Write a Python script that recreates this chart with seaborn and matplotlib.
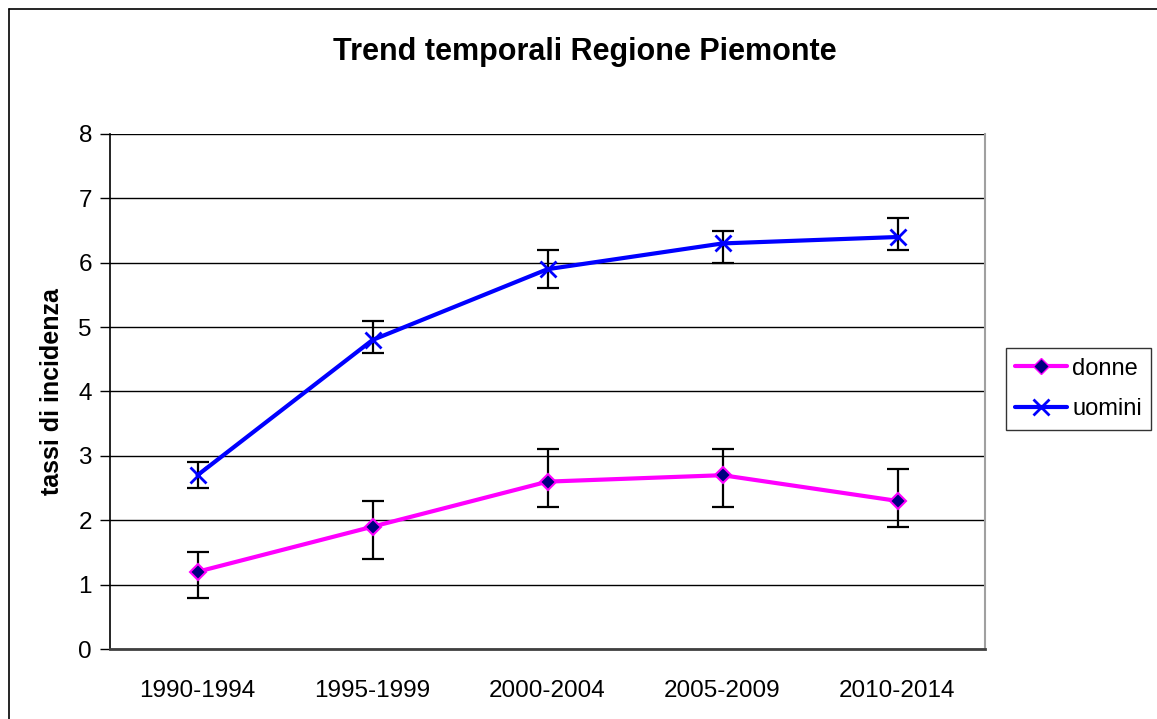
import seaborn as sns
import pandas as pd
import matplotlib.pyplot as plt
from matplotlib.lines import Line2D

# Data
periodi = ['1990-1994', '1995-1999', '2000-2004', '2005-2009', '2010-2014']
donne = [1.2, 1.9, 2.6, 2.7, 2.3]
donne_low = [0.8, 1.4, 2.2, 2.2, 1.9]
donne_high = [1.5, 2.3, 3.1, 3.1, 2.8]
uomini = [2.7, 4.8, 5.9, 6.3, 6.4]
uomini_low = [2.5, 4.6, 5.6, 6.0, 6.2]
uomini_high = [2.9, 5.1, 6.2, 6.5, 6.7]

df = pd.DataFrame({
    'periodo': periodi * 2,
    'tasso': donne + uomini,
    'sesso': ['donne'] * 5 + ['uomini'] * 5,
})

sns.set_style('white')
plt.rcParams['font.family'] = ['Liberation Sans', 'DejaVu Sans']
plt.rcParams['text.color'] = 'black'
plt.rcParams['axes.labelcolor'] = 'black'
plt.rcParams['xtick.color'] = 'black'
plt.rcParams['ytick.color'] = 'black'

fig = plt.figure(figsize=(11.57, 7.19), dpi=100)
ax = fig.add_axes([110 / 1157, 70 / 719, 875 / 1157, 515 / 719])

# error bars first, so lines sit on top
for vals, lo, hi in [(donne, donne_low, donne_high), (uomini, uomini_low, uomini_high)]:
    yerr = [[v - l for v, l in zip(vals, lo)], [h - v for v, h in zip(vals, hi)]]
    ax.errorbar(periodi, vals, yerr=yerr, fmt='none', ecolor='black',
                elinewidth=1.6, capsize=8, capthick=1.6, zorder=3)

colors = {'donne': '#FF00FF', 'uomini': '#0000FF'}
sns.lineplot(data=df, x='periodo', y='tasso', hue='sesso', palette=colors,
             linewidth=3, legend=False, ax=ax, zorder=4, sort=False)

# markers
ax.plot(periodi, donne, linestyle='none', marker='D', markersize=8,
        markerfacecolor='#000080', markeredgecolor='#FF00FF', markeredgewidth=1.5, zorder=5)
ax.plot(periodi, uomini, linestyle='none', marker='x', markersize=12,
        markeredgecolor='#0000FF', markeredgewidth=2, zorder=5)

ax.set_ylim(0, 8)
ax.set_xlim(-0.5, 4.5)
ax.set_yticks(range(0, 9))
ax.yaxis.grid(True, color='black', linewidth=1)
ax.set_axisbelow(True)
ax.set_xticks([i - 0.5 for i in range(6)], minor=True)
ax.tick_params(axis='x', which='major', length=0, labelsize=17.5, pad=22)
ax.tick_params(axis='x', which='minor', length=7, width=1, color='#404040', direction='out')
ax.tick_params(axis='y', length=7, width=1, color='black', direction='out', labelsize=17.5, pad=6, left=True)

ax.spines['top'].set_visible(False)
ax.spines['left'].set_color('black')
ax.spines['left'].set_linewidth(1.2)
ax.spines['bottom'].set_color('#404040')
ax.spines['bottom'].set_linewidth(2)
ax.spines['right'].set_color('#A0A0A0')
ax.spines['right'].set_linewidth(1.5)

ax.set_xlabel('')
ax.set_ylabel('tassi di incidenza', fontsize=18, fontweight='bold', labelpad=10)

fig.text(585 / 1157, 1 - 52 / 719, 'Trend temporali Regione Piemonte',
         ha='center', va='center', fontsize=22, fontweight='bold')

handles = [
    Line2D([], [], color='#FF00FF', linewidth=3, marker='D', markersize=8,
           markerfacecolor='#000080', markeredgecolor='#FF00FF'),
    Line2D([], [], color='#0000FF', linewidth=3, marker='x', markersize=12,
           markeredgecolor='#0000FF', markeredgewidth=2),
]
leg = fig.legend(handles, ['donne', 'uomini'], loc='center left',
                 bbox_to_anchor=(1006 / 1157, 1 - 389 / 719), fontsize=17,
                 frameon=True, fancybox=False, handlelength=2.2, handletextpad=0.2,
                 borderpad=0.4, labelspacing=0.8, borderaxespad=0)
leg.get_frame().set_edgecolor('black')
leg.get_frame().set_linewidth(1)

# outer chart frame (left and top edges are visible)
fig.add_artist(Line2D([9 / 1157, 9 / 1157], [0, 1 - 9 / 719], color='black', linewidth=1.2))
fig.add_artist(Line2D([9 / 1157, 1], [1 - 9 / 719, 1 - 9 / 719], color='black', linewidth=1.2))

fig.savefig('out.png', dpi=100)
